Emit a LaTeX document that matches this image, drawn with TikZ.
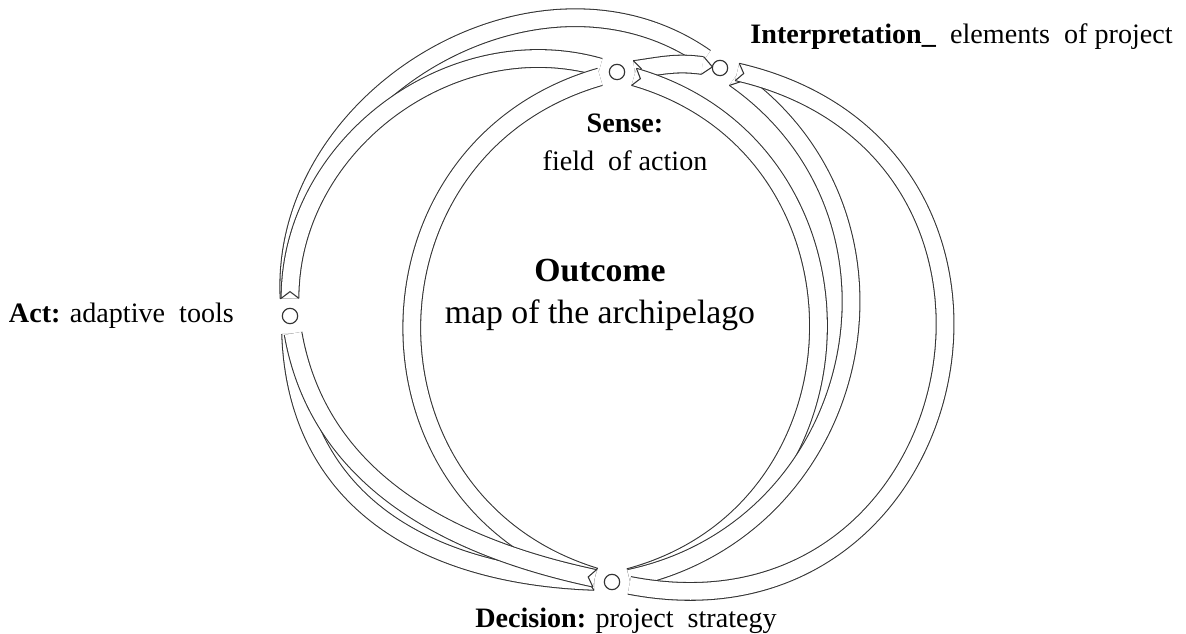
\documentclass[tikz,border=0pt]{standalone}
\usepackage{fontspec}
\setmainfont{Liberation Serif}
\usetikzlibrary{positioning,decorations.markings}

\tikzset{
  dot/.style={circle, draw=black!80, line width=.5pt, minimum size=2.3mm,
              inner sep=0pt, outer sep=1.5mm},
  band/.style={draw=black!80, line width=.45pt, double=white,
               double distance=2.5mm,
               postaction={decorate, decoration={markings,
                 mark=at position 0 with {\draw[black!80, line width=.45pt]
                   (0,1.33mm) -- (1mm,0) -- (0,-1.33mm);},
                 mark=at position 1 with {\draw[black!80, line width=.45pt, fill=white]
                   (0,1.33mm) -- (1.5mm,0) -- (0,-1.33mm);}}}},
  lbl/.style={font=\fontsize{12}{16}\selectfont, inner sep=0pt, align=center}
}

\begin{document}
\begin{tikzpicture}[x=.15mm, y=.15mm]
  \useasboundingbox (0,0) rectangle (1186,634);

  % the four stages
  \node[dot] (act)      at (290,318) {};
  \node[dot] (sense)    at (617,562) {};
  \node[dot] (interp)   at (720,566) {};
  \node[dot] (decision) at (612,52)  {};

  \node[lbl, font=\fontsize{14.4}{18}\selectfont] (outcome) at (600,339)
       {\textbf{Outcome}\\ map of the archipelago};

  \node[lbl, below=3.6mm of sense, xshift=1.2mm] (sensel)
       {\textbf{Sense:}\\ field\ \ of action};
  \node[lbl, anchor=west] (interpl) at (750,597)
       {\textbf{Interpretation\_}\ \ elements\ \ of project};
  \node[lbl, left=5.7mm of act] (actl) {\textbf{Act:} adaptive\ \ tools};
  \node[lbl, below=1.2mm of decision, xshift=2.1mm] (decisionl)
       {\textbf{Decision:} project\ \ strategy};

  % bands
  \path (act) edge[band, out=93, in=145, looseness=1.08] (interp)
              edge[band, out=90, in=164, looseness=1.02] (sense)
        (sense) edge[band, out=8, in=172] (interp)
                edge[band, out=-16, in=15, looseness=1.32] (decision)
        (interp) edge[band, out=-35, in=12, looseness=1.21] (decision)
                 edge[band, out=-13, in=-11, looseness=1.7] (decision)
        (decision) edge[band, out=163, in=196, looseness=1.32] (sense)
                   edge[band, out=178, in=-88, looseness=1.1] (act)
                   edge[band, out=168, in=-80, looseness=0.98] (act);

\end{tikzpicture}
\end{document}
